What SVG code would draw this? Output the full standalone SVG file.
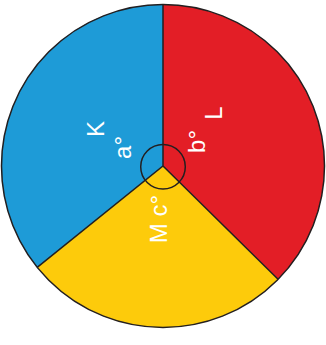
<svg xmlns="http://www.w3.org/2000/svg" width="326" height="345" viewBox="0 0 326 345">
<style>
.lbl{font-family:"Liberation Sans",Arial,sans-serif;font-size:24px;fill:#ffffff;text-anchor:middle}
.edge{stroke:#231f20;stroke-width:1.5;fill:none}
</style>
<rect width="326" height="345" fill="#ffffff"/>
<g id="sector-K">
<path d="M163,166 L163,4.5 A161.5,161.5 0 0 0 37.2,267.3 Z" fill="#1e9bd7"/>
<text class="lbl" transform="translate(104,129) rotate(-90)">K</text>
<text class="lbl" transform="translate(130.5,147.5) rotate(-90)">a°</text>
</g>
<g id="sector-L">
<path d="M163,166 L163,4.5 A161.5,161.5 0 0 1 278.05,279.3 Z" fill="#e31e26"/>
<text class="lbl" transform="translate(205,141.5) rotate(-90)">b°</text>
<text class="lbl" transform="translate(222,113) rotate(-90)">L</text>
</g>
<g id="sector-M">
<path d="M163,166 L278.05,279.3 A161.5,161.5 0 0 1 37.2,267.3 Z" fill="#fdcb0b"/>
<text class="lbl" transform="translate(167,219) rotate(-90)">M c°</text>
</g>
<g id="connectors">
<path class="edge" d="M163,4.5 L163,166 M37.2,267.3 L163,166 L278.05,279.3"/>
<circle class="edge" cx="163" cy="166" r="161.5"/>
<circle class="edge" cx="163" cy="166.7" r="22.3" stroke-width="2"/>
</g>
</svg>
